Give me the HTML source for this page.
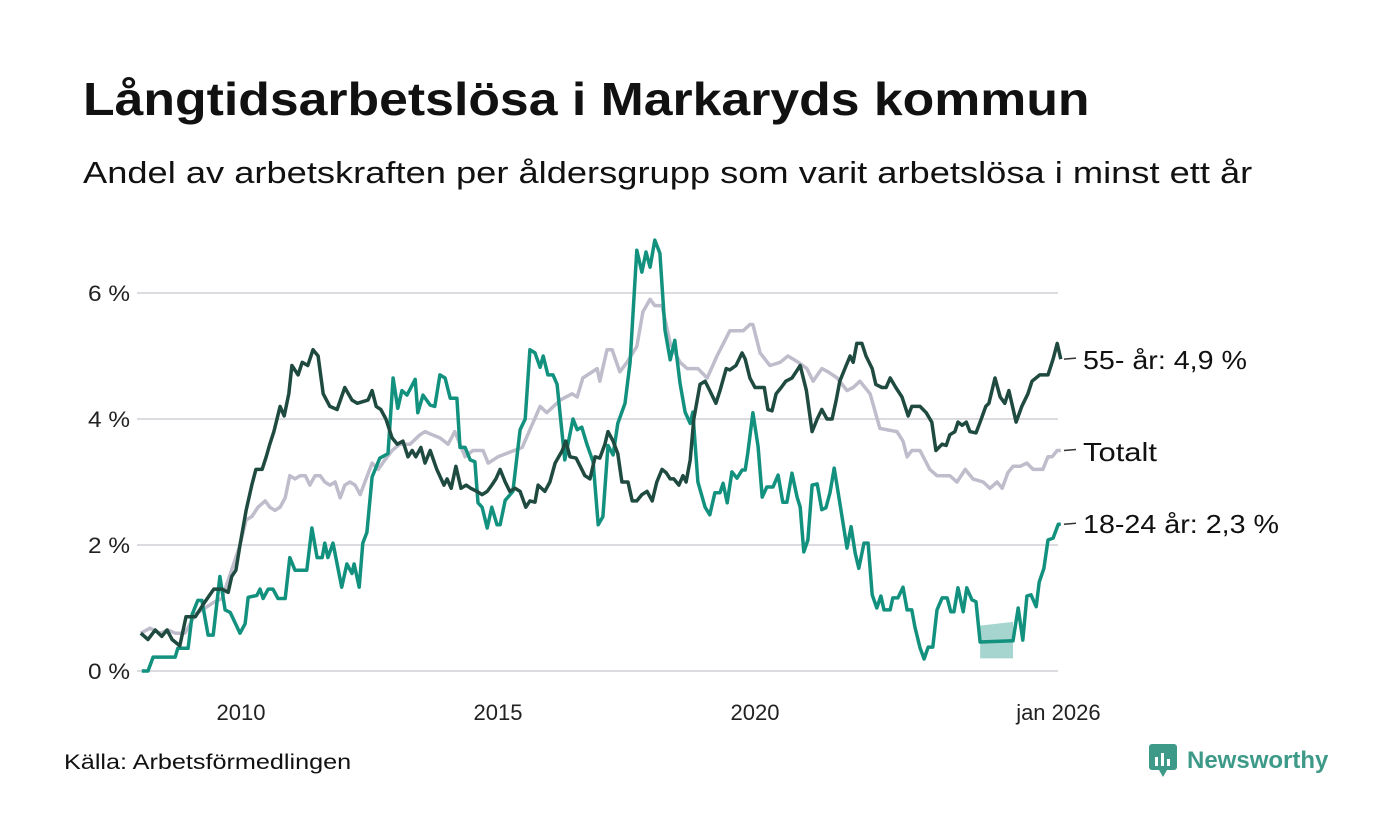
<!DOCTYPE html>
<html><head><meta charset="utf-8">
<style>
body{margin:0;background:#fff;width:1400px;height:840px;overflow:hidden;font-family:"Liberation Sans",sans-serif;}
#wrap{position:relative;width:1400px;height:840px;}
h1{position:absolute;left:83px;top:72px;margin:0;font-size:46px;font-weight:bold;color:#111;transform:scaleX(1.125);transform-origin:0 0;white-space:nowrap}
.sub{position:absolute;left:83px;top:155px;font-size:31px;color:#111;transform:scaleX(1.17);transform-origin:0 0;white-space:nowrap}
.src{position:absolute;left:64px;top:751px;font-size:21px;color:#111;transform:scaleX(1.2);transform-origin:0 0;white-space:nowrap}
</style></head><body>
<div id="wrap">
<h1>Långtidsarbetslösa i Markaryds kommun</h1>
<div class="sub">Andel av arbetskraften per åldersgrupp som varit arbetslösa i minst ett år</div>
<svg id="chart" width="1400" height="840" style="position:absolute;left:0;top:0"></svg>
<div class="src">Källa: Arbetsförmedlingen</div>
<div style="position:absolute;left:1149px;top:744px;display:flex;align-items:center">
<svg width="30" height="34"><rect x="0" y="0" width="28" height="26" rx="3" fill="#3e9a88"/><polygon points="10,26 18,26 14,33" fill="#3e9a88"/><rect x="6" y="13" width="3" height="9" fill="#fff"/><rect x="12" y="9" width="3" height="13" fill="#fff"/><rect x="18" y="15" width="3" height="7" fill="#fff"/></svg>
<span style="font-size:24px;font-weight:bold;color:#3e9a88;margin-left:8px">Newsworthy</span></div>
</div>
<script>
const yTicks=[0,2,4,6];
const yTickLabels=["0 %","2 %","4 %","6 %"];
const xTicks=[2010,2015,2020,2026];
const xTickLabels=["2010","2015","2020","jan 2026"];

const dates55=[2008.05,2008.19,2008.33,2008.46,2008.56,2008.66,2008.81,2008.93,2009.11,2009.30,2009.47,2009.63,2009.75,2009.82,2009.90,2009.98,2010.10,2010.21,2010.29,2010.41,2010.49,2010.56,2010.64,2010.76,2010.84,2010.93,2010.99,2011.11,2011.19,2011.30,2011.40,2011.50,2011.60,2011.73,2011.87,2012.02,2012.16,2012.26,2012.47,2012.55,2012.63,2012.72,2012.82,2012.94,2013.04,2013.15,2013.25,2013.33,2013.40,2013.50,2013.58,2013.68,2013.81,2013.95,2014.01,2014.09,2014.18,2014.28,2014.38,2014.47,2014.59,2014.69,2014.79,2014.88,2014.96,2015.04,2015.14,2015.23,2015.33,2015.43,2015.54,2015.62,2015.72,2015.78,2015.91,2016.01,2016.11,2016.25,2016.32,2016.40,2016.52,2016.63,2016.69,2016.79,2016.89,2016.98,2017.08,2017.14,2017.24,2017.33,2017.41,2017.53,2017.61,2017.70,2017.80,2017.90,2018.00,2018.09,2018.19,2018.27,2018.35,2018.42,2018.52,2018.60,2018.66,2018.74,2018.81,2018.93,2019.03,2019.12,2019.24,2019.32,2019.44,2019.51,2019.63,2019.75,2019.81,2019.90,2020.00,2020.10,2020.18,2020.25,2020.33,2020.41,2020.51,2020.60,2020.72,2020.80,2020.88,2021.00,2021.11,2021.21,2021.30,2021.40,2021.50,2021.58,2021.65,2021.75,2021.85,2021.91,2021.98,2022.08,2022.16,2022.28,2022.35,2022.47,2022.55,2022.63,2022.74,2022.86,2022.98,2023.05,2023.21,2023.33,2023.44,2023.52,2023.64,2023.72,2023.79,2023.89,2023.95,2024.03,2024.11,2024.18,2024.30,2024.38,2024.49,2024.55,2024.67,2024.77,2024.86,2024.94,2025.08,2025.19,2025.31,2025.39,2025.54,2025.70,2025.80,2025.88,2025.95];
const values55=[0.6,0.5,0.65,0.55,0.65,0.5,0.4,0.86,0.86,1.1,1.3,1.3,1.25,1.5,1.6,2.0,2.55,2.95,3.2,3.2,3.4,3.6,3.8,4.2,4.05,4.4,4.85,4.7,4.9,4.85,5.1,5.0,4.4,4.2,4.15,4.5,4.3,4.25,4.3,4.45,4.2,4.15,4.0,3.7,3.6,3.65,3.4,3.5,3.4,3.55,3.3,3.5,3.2,2.95,3.05,2.9,3.25,2.9,2.95,2.9,2.85,2.8,2.85,2.95,3.05,3.2,3.0,2.85,2.9,2.85,2.6,2.7,2.68,2.95,2.85,3.0,3.3,3.5,3.65,3.4,3.38,3.2,3.1,3.05,3.4,3.38,3.6,3.8,3.65,3.45,3.0,3.0,2.7,2.7,2.8,2.85,2.7,3.0,3.2,3.15,3.05,3.05,2.95,3.1,3.0,3.35,4.0,4.55,4.6,4.45,4.25,4.45,4.8,4.78,4.85,5.05,4.95,4.65,4.5,4.5,4.5,4.15,4.13,4.4,4.5,4.6,4.65,4.75,4.85,4.45,3.8,4.0,4.15,4.0,4.0,4.3,4.6,4.8,5.0,4.9,5.2,5.2,5.0,4.8,4.55,4.5,4.5,4.65,4.5,4.35,4.05,4.2,4.2,4.1,3.95,3.5,3.6,3.58,3.75,3.8,3.95,3.9,3.95,3.8,3.78,3.95,4.2,4.25,4.65,4.35,4.25,4.45,3.95,4.2,4.4,4.6,4.7,4.7,4.95,5.2,4.95];

const datesTot=[2008.05,2008.23,2008.42,2008.58,2008.72,2008.91,2009.11,2009.30,2009.49,2009.63,2009.98,2010.10,2010.21,2010.33,2010.47,2010.56,2010.66,2010.76,2010.86,2010.95,2011.05,2011.15,2011.25,2011.34,2011.44,2011.54,2011.63,2011.73,2011.83,2011.93,2012.02,2012.12,2012.22,2012.32,2012.41,2012.55,2012.67,2012.80,2012.94,2013.09,2013.29,2013.48,2013.58,2013.72,2013.87,2014.03,2014.16,2014.36,2014.51,2014.71,2014.81,2015.00,2015.47,2015.82,2015.95,2016.21,2016.44,2016.54,2016.65,2016.93,2016.98,2017.12,2017.22,2017.37,2017.51,2017.70,2017.82,2017.96,2018.05,2018.19,2018.35,2018.54,2018.68,2018.89,2019.07,2019.26,2019.51,2019.77,2019.90,2019.96,2020.10,2020.29,2020.49,2020.64,2020.84,2021.01,2021.13,2021.30,2021.42,2021.60,2021.79,2021.91,2022.04,2022.24,2022.43,2022.76,2022.88,2022.96,2023.05,2023.21,2023.40,2023.54,2023.79,2023.93,2024.09,2024.24,2024.44,2024.57,2024.71,2024.81,2024.92,2025.02,2025.16,2025.29,2025.41,2025.60,2025.70,2025.78,2025.88,2025.95];
const valuesTot=[0.6,0.68,0.6,0.65,0.6,0.6,0.9,1.0,1.1,1.15,2.0,2.4,2.45,2.6,2.7,2.6,2.55,2.6,2.75,3.1,3.05,3.1,3.1,2.95,3.1,3.1,3.0,2.95,3.0,2.75,2.95,3.0,2.95,2.8,3.0,3.3,3.2,3.35,3.5,3.6,3.6,3.75,3.8,3.75,3.7,3.6,3.8,3.4,3.5,3.5,3.3,3.4,3.55,4.2,4.1,4.3,4.4,4.35,4.65,4.8,4.6,5.1,5.1,4.75,4.9,5.15,5.7,5.9,5.8,5.8,5.2,4.9,4.8,4.8,4.65,5.0,5.4,5.4,5.5,5.5,5.05,4.85,4.9,5.0,4.9,4.8,4.6,4.8,4.75,4.65,4.45,4.5,4.6,4.4,3.85,3.8,3.65,3.4,3.5,3.5,3.2,3.1,3.1,3.0,3.2,3.05,3.0,2.9,3.0,2.9,3.15,3.25,3.25,3.3,3.2,3.2,3.4,3.4,3.5,3.5];

const datesYoung=[2008.07,2008.19,2008.29,2008.72,2008.77,2008.97,2009.05,2009.16,2009.24,2009.36,2009.46,2009.59,2009.69,2009.79,2009.98,2010.08,2010.14,2010.31,2010.37,2010.43,2010.53,2010.62,2010.72,2010.86,2010.95,2011.05,2011.28,2011.38,2011.48,2011.58,2011.63,2011.69,2011.79,2011.96,2012.06,2012.16,2012.20,2012.30,2012.37,2012.45,2012.55,2012.70,2012.86,2012.96,2013.05,2013.13,2013.23,2013.39,2013.44,2013.54,2013.68,2013.77,2013.87,2013.97,2014.07,2014.20,2014.26,2014.36,2014.46,2014.55,2014.61,2014.69,2014.79,2014.88,2014.98,2015.04,2015.14,2015.29,2015.43,2015.53,2015.62,2015.72,2015.82,2015.88,2015.97,2016.07,2016.15,2016.30,2016.46,2016.54,2016.63,2016.73,2016.85,2016.95,2017.04,2017.14,2017.24,2017.33,2017.47,2017.57,2017.70,2017.80,2017.88,2017.96,2018.05,2018.15,2018.25,2018.35,2018.44,2018.54,2018.64,2018.74,2018.79,2018.89,2019.03,2019.12,2019.22,2019.32,2019.38,2019.46,2019.55,2019.65,2019.75,2019.81,2019.86,2019.96,2020.06,2020.14,2020.23,2020.35,2020.45,2020.54,2020.62,2020.72,2020.82,2020.88,2020.95,2021.03,2021.11,2021.21,2021.30,2021.38,2021.46,2021.54,2021.65,2021.79,2021.87,2021.95,2022.02,2022.12,2022.20,2022.28,2022.37,2022.45,2022.51,2022.63,2022.68,2022.78,2022.88,2022.96,2023.05,2023.11,2023.21,2023.29,2023.37,2023.46,2023.54,2023.64,2023.74,2023.81,2023.87,2023.95,2024.05,2024.12,2024.22,2024.30,2024.38,2025.02,2025.12,2025.21,2025.29,2025.37,2025.47,2025.53,2025.62,2025.70,2025.80,2025.90,2025.95];
const valuesYoung=[0,0,0.22,0.22,0.36,0.36,0.9,1.12,1.12,0.57,0.57,1.5,0.97,0.93,0.6,0.75,1.17,1.2,1.3,1.15,1.3,1.3,1.15,1.15,1.8,1.6,1.6,2.27,1.8,1.8,2.03,1.8,2.03,1.33,1.7,1.55,1.7,1.33,2.03,2.2,3.08,3.38,3.45,4.65,4.17,4.45,4.38,4.63,4.1,4.38,4.22,4.2,4.7,4.65,4.33,4.33,3.55,3.55,3.35,3.32,2.67,2.6,2.27,2.6,2.32,2.32,2.71,2.85,3.83,4.0,5.1,5.05,4.82,5.0,4.7,4.7,4.55,3.35,4.0,3.83,3.87,3.6,3.32,2.32,2.45,3.58,3.43,3.93,4.25,4.9,6.68,6.33,6.65,6.41,6.84,6.63,5.41,4.94,5.25,4.57,4.11,3.93,4.11,3.0,2.6,2.48,2.83,2.83,2.98,2.67,3.16,3.06,3.19,3.19,3.46,4.1,3.56,2.76,2.92,2.92,3.11,2.68,2.68,3.14,2.76,2.6,1.89,2.08,2.95,2.97,2.56,2.59,2.83,3.22,2.67,1.95,2.29,1.87,1.63,2.03,2.03,1.21,1.0,1.19,0.97,0.97,1.16,1.16,1.33,0.97,0.97,0.7,0.37,0.19,0.38,0.38,0.97,1.16,1.16,0.94,0.94,1.32,0.94,1.32,1.13,1.1,0.46,0.48,1.0,0.49,1.19,1.21,1.02,1.41,1.63,2.08,2.11,2.33,2.33];
const bandDates=[2024.38,2025.02];
const bandLow=[0.2,0.2];
const bandHigh=[0.72,0.78];

const labels=[{t:"55- år: 4,9 %",v:values55[values55.length-1],ly:369,w:164,n:"label-55-plus"},{t:"Totalt",v:valuesTot[valuesTot.length-1],ly:461,w:74,n:"label-totalt"},{t:"18-24 år: 2,3 %",v:valuesYoung[valuesYoung.length-1],ly:533,w:196,n:"label-18-24"}];

const svg=document.getElementById('chart');
const NS="http://www.w3.org/2000/svg";
const X0=241, PX=51.4, Y0=671, PY=63;
function xs(d){return X0+(d-2010)*PX;}
function ys(v){return Y0-v*PY;}
function mk(tag,attrs){const e=document.createElementNS(NS,tag);for(const k in attrs)e.setAttribute(k,attrs[k]);svg.appendChild(e);return e;}

yTicks.forEach((t,i)=>{
  const g=mk('line',{x1:137,x2:1058,y1:ys(t),y2:ys(t),stroke:'#dcdbe0','stroke-width':2});
  
  
  const l=mk('text',{x:130,y:ys(t)+8,'text-anchor':'end','font-size':22,fill:'#222','font-family':'Liberation Sans, sans-serif',textLength:42,lengthAdjust:'spacingAndGlyphs'});
  l.textContent=yTickLabels[i];
  
  
});
xTicks.forEach((t,i)=>{
  const l=mk('text',{x:i===3?xs(t)-5:xs(t),y:720,'text-anchor':'middle','font-size':22,fill:'#222','font-family':'Liberation Sans, sans-serif'});
  l.textContent=xTickLabels[i];
  
  
});

let bp='';
bandDates.forEach((d,i)=>{bp+=(i?'L':'M')+xs(d)+','+ys(bandHigh[i]);});
for(let i=bandDates.length-1;i>=0;i--)bp+='L'+xs(bandDates[i])+','+ys(bandLow[i]);
const band=mk('path',{d:bp+'Z',fill:'#13917f','fill-opacity':0.38});



function line(d,v,color,name){
  let p='';d.forEach((x,i)=>{p+=(i?'L':'M')+xs(x).toFixed(1)+','+ys(v[i]).toFixed(1);});
  const e=mk('path',{d:p,fill:'none',stroke:color,'stroke-width':3.5,'stroke-linejoin':'round'});
  
  
}
line(datesTot,valuesTot,'#bfbccb','line-totalt');
line(datesYoung,valuesYoung,'#13917f','line-18-24');
line(dates55,values55,'#1f4a40','line-55-plus');

labels.forEach(o=>{
  const t=mk('line',{x1:1064,x2:1076,y1:ys(o.v),y2:ys(o.v)-1,stroke:'#333','stroke-width':1.5});
  
  
  const l=mk('text',{x:1083,y:o.ly,'font-size':26,fill:'#111','font-family':'Liberation Sans, sans-serif',textLength:o.w,lengthAdjust:'spacingAndGlyphs'});
  l.textContent=o.t;
  
  
});
</script>
</body></html>
